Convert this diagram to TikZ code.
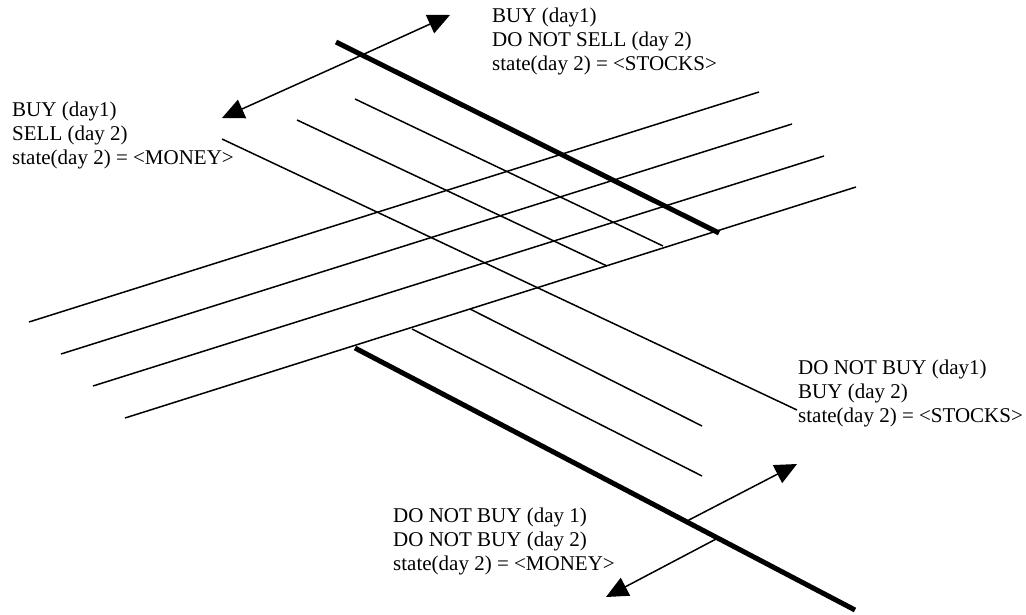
\documentclass[tikz,border=0pt]{standalone}
\usepackage{fontspec}
\setmainfont{Liberation Serif}
\usetikzlibrary{arrows.meta}
\begin{document}
\begin{tikzpicture}[x=1pt,y=-1pt,
  ray/.style={line width=1.5pt},
  bound/.style={line width=5pt},
  dirarrow/.style={line width=1.5pt,-{Triangle[length=22pt,width=20pt]}},
  caption/.style={anchor=north west,inner sep=0pt,align=left,
    font=\fontsize{21}{24}\selectfont}]
\useasboundingbox (0,0) rectangle (1026,615);

% rising lines
\coordinate (u1a) at (29,322);  \coordinate (u1b) at (759,92);
\coordinate (u2a) at (61,354);  \coordinate (u2b) at (792,124);
\coordinate (u3a) at (93,386);  \coordinate (u3b) at (824,156);
\coordinate (u4a) at (125,418); \coordinate (u4b) at (856,187);
\foreach \i in {1,...,4} \draw[ray] (u\i a) -- (u\i b);

% falling lines, upper group
\coordinate (d0a) at (336,42);  \coordinate (d0b) at (719,233);
\coordinate (d1a) at (355,99);  \coordinate (d1b) at (663,246);
\coordinate (d2a) at (297,120); \coordinate (d2b) at (607,266);
\draw[bound] (d0a) -- (d0b);
\draw[ray] (d1a) -- (d1b);
\draw[ray] (d2a) -- (d2b);

% long falling line
\coordinate (d3a) at (222,139); \coordinate (d3b) at (797,410);
\draw[ray] (d3a) -- (d3b);

% falling lines, lower group
\coordinate (d4a) at (470,309); \coordinate (d4b) at (702,426);
\coordinate (d5a) at (412,329); \coordinate (d5b) at (702,476);
\coordinate (d6a) at (355,348); \coordinate (d6b) at (855,610);
\draw[ray] (d4a) -- (d4b);
\draw[ray] (d5a) -- (d5b);
\draw[bound] (d6a) -- (d6b);

% direction arrows across the thick boundaries
\coordinate (x1) at (362,55);
\coordinate (t1) at (450,15);
\coordinate (t2) at (222,118);
\draw[dirarrow] (x1) -- (t1);
\draw[dirarrow] (x1) -- (t2);

\coordinate (x2) at (687,521); \coordinate (t3) at (797,464);
\coordinate (x3) at (718,538); \coordinate (t4) at (606,597);
\draw[dirarrow] (x2) -- (t3);
\draw[dirarrow] (x3) -- (t4);

% labels
\node[caption] (top) at (492,8) {BUY (day1)\\DO NOT SELL (day 2)\\state(day 2) = <STOCKS>};
\node[caption] (left) at (12,102) {BUY (day1)\\SELL (day 2)\\state(day 2) = <MONEY>};
\node[caption] (right) at (798,360) {DO NOT BUY (day1)\\BUY (day 2)\\state(day 2) = <STOCKS>};
\node[caption] (bottom) at (393,508) {DO NOT BUY (day 1)\\DO NOT BUY (day 2)\\state(day 2) = <MONEY>};
\end{tikzpicture}
\end{document}
